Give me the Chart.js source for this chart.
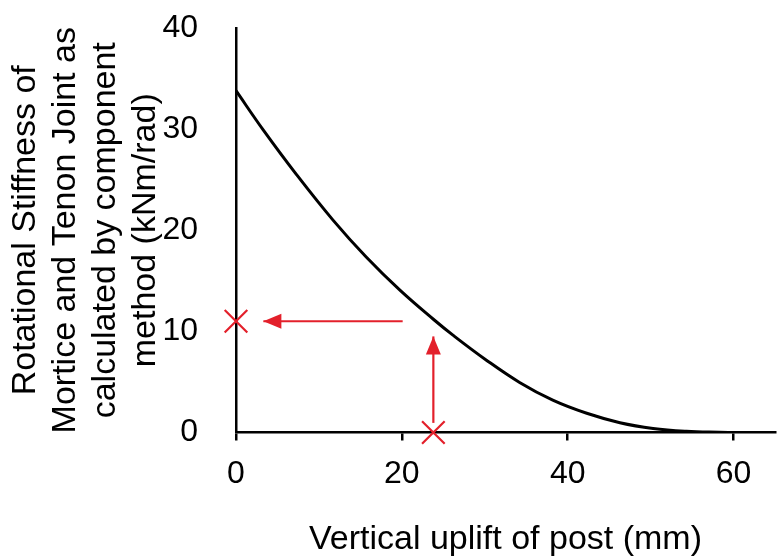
<!DOCTYPE html>
<html>
<head>
<meta charset="utf-8">
<script src="https://cdn.jsdelivr.net/npm/chart.js@4.4.1/dist/chart.umd.min.js"></script>
<style>
html,body{margin:0;padding:0;background:#fff;}
canvas{display:block;}
</style>
</head>
<body>
<canvas id="c" width="778" height="558"></canvas>
<script>
// Curve
const upliftMm = [0, 3.3, 7.3, 11.7, 15.7, 19.8, 23.8, 26.2, 30.2, 34.2, 38.2, 42.3, 46.3, 50.3, 54.3, 58.3, 60];
const stiffness = [33.8, 29.9, 25.5, 21.0, 17.35, 14.05, 11.2, 9.6, 7.15, 4.95, 3.2, 1.9, 0.97, 0.4, 0.12, 0.02, 0];
// Red cross markers
const markX = [0, 23.8];
const markY = [11.0, 0];
// Red arrows (from -> tip)
const arrowFromX = [20.1, 23.8];
const arrowFromY = [11.0, 0.95];
const arrowToX = [3.3, 23.8];
const arrowToY = [11.0, 9.5];
// Axis ticks
const xTicks = [0, 20, 40, 60];
const yTicks = [0, 10, 20, 30, 40];
const xTitle = 'Vertical uplift of post (mm)';
const yTitle = ['Rotational Stiffness of', 'Mortice and Tenon Joint as', 'calculated by component', 'method (kNm/rad)'];

const RED = '#e3202b';
const FONT = 'Liberation Sans, Arial, sans-serif';

const curve = upliftMm.map((x, i) => ({x: x, y: stiffness[i]}));
const marks = markX.map((x, i) => ({x: x, y: markY[i]}));
const arrowSets = arrowFromX.map((x, i) => ({
  type: 'line',
  data: [{x: x, y: arrowFromY[i]}, {x: arrowToX[i], y: arrowToY[i]}],
  borderColor: RED, borderWidth: 2.2, pointRadius: 0, fill: false, clip: false, order: 2
}));

const arrowHeads = {
  id: 'arrowHeads',
  afterDatasetsDraw(chart) {
    const xs = chart.scales.x, ys = chart.scales.y, ctx = chart.ctx;
    ctx.save();
    ctx.fillStyle = RED;
    for (let i = 0; i < arrowToX.length; i++) {
      const x0 = xs.getPixelForValue(arrowFromX[i]), y0 = ys.getPixelForValue(arrowFromY[i]);
      const x1 = xs.getPixelForValue(arrowToX[i]), y1 = ys.getPixelForValue(arrowToY[i]);
      const d = Math.hypot(x1 - x0, y1 - y0), ux = (x1 - x0) / d, uy = (y1 - y0) / d;
      const L = 18, W = 7.5;
      const bx = x1 - ux * L, by = y1 - uy * L;
      ctx.beginPath();
      ctx.moveTo(x1, y1);
      ctx.lineTo(bx - uy * W, by + ux * W);
      ctx.lineTo(bx + uy * W, by - ux * W);
      ctx.closePath();
      ctx.fill();
    }
    ctx.restore();
  }
};

new Chart(document.getElementById('c'), {
  type: 'scatter',
  data: {
    datasets: [
      {
        type: 'line', data: curve, borderColor: '#000', borderWidth: 3,
        pointRadius: 0, fill: false, tension: 0.4, order: 3
      },
      ...arrowSets,
      {
        type: 'scatter', data: marks, pointStyle: 'crossRot', pointRadius: 16,
        borderColor: RED, borderWidth: 2.2, backgroundColor: RED, clip: false, order: 1
      }
    ]
  },
  plugins: [arrowHeads],
  options: {
    responsive: false,
    animation: false,
    events: [],
    layout: {autoPadding: false, padding: {top: 28, right: 3, left: 0, bottom: 0}},
    plugins: {legend: {display: false}, tooltip: {enabled: false}},
    scales: {
      x: {
        type: 'linear', min: 0, max: 65,
        afterBuildTicks: s => { s.ticks = xTicks.map(v => ({value: v})); },
        afterFit: s => { s.height = 125.5; s.paddingLeft = 0; s.paddingRight = 0; },
        ticks: {color: '#000', font: {family: FONT, size: 32}, padding: 14, maxRotation: 0},
        grid: {display: true, drawOnChartArea: false, drawTicks: true, tickLength: 8, color: '#000', lineWidth: 2.5},
        border: {display: true, color: '#000', width: 2.5},
        title: {display: true, text: xTitle, color: '#000', font: {family: FONT, size: 34, lineHeight: 1.1}, padding: {top: 0, bottom: 0}}
      },
      y: {
        type: 'linear', min: 0, max: 40,
        afterBuildTicks: s => { s.ticks = yTicks.map(v => ({value: v})); },
        afterFit: s => { s.width = 236; s.paddingTop = 0; s.paddingBottom = 0; },
        ticks: {color: '#000', font: {family: FONT, size: 32}, padding: 30},
        grid: {display: false},
        border: {display: true, color: '#000', width: 2.5},
        title: {display: true, text: yTitle, color: '#000', font: {family: FONT, size: 34, lineHeight: 1.17}, padding: {top: 6, bottom: 0}}
      }
    }
  }
});
</script>
</body>
</html>
